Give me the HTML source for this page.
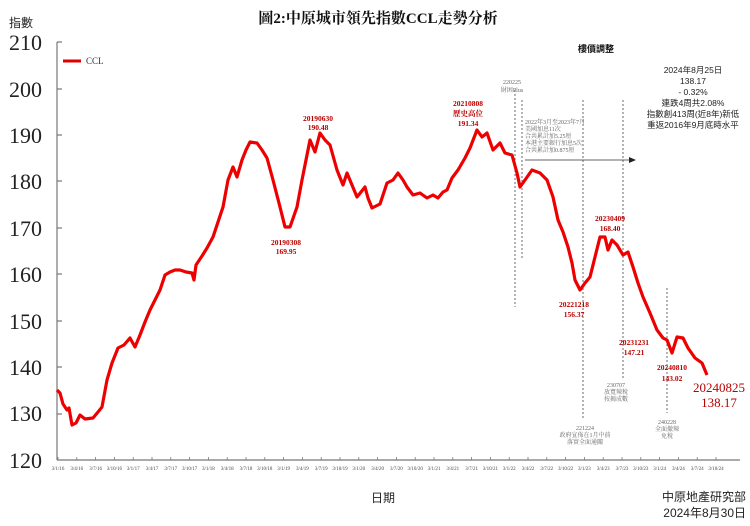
<!DOCTYPE html>
<html><head><meta charset="utf-8"><style>
body{margin:0;background:#fff;}
svg{display:block;font-family:"Liberation Serif","Noto Serif CJK SC",serif;}
</style></head><body>
<svg width="750" height="526" viewBox="0 0 750 526" xmlns="http://www.w3.org/2000/svg">
<rect width="750" height="526" fill="#fff"/>
<text x="378" y="23" font-size="15" font-weight="bold" text-anchor="middle" fill="#111">圖2:中原城市領先指數CCL走勢分析</text>
<text x="9" y="27" font-size="12" font-family="Liberation Sans,Noto Sans CJK TC,sans-serif" fill="#222">指數</text>
<g font-size="22" fill="#222" text-anchor="end">
<text x="42" y="50">210</text><text x="42" y="97">200</text><text x="42" y="143">190</text><text x="42" y="189">180</text><text x="42" y="236">170</text><text x="42" y="282">160</text><text x="42" y="329">150</text><text x="42" y="375">140</text><text x="42" y="421">130</text><text x="42" y="468">120</text>
</g>
<g stroke="#777" stroke-width="1.2">
<line x1="57" y1="42" x2="57" y2="460"/><line x1="57" y1="460" x2="740" y2="460"/>
<line x1="57" y1="42" x2="62" y2="42"/><line x1="57" y1="89" x2="62" y2="89"/><line x1="57" y1="135" x2="62" y2="135"/><line x1="57" y1="181" x2="62" y2="181"/><line x1="57" y1="228" x2="62" y2="228"/><line x1="57" y1="274" x2="62" y2="274"/><line x1="57" y1="321" x2="62" y2="321"/><line x1="57" y1="367" x2="62" y2="367"/><line x1="57" y1="414" x2="62" y2="414"/>
</g>
<line x1="63" y1="61" x2="81" y2="61" stroke="#d00" stroke-width="3"/>
<text x="86" y="64" font-size="9" fill="#333">CCL</text>
<g stroke="#777" stroke-width="0.8">
<line x1="58" y1="457" x2="58" y2="460"/><line x1="76.8" y1="457" x2="76.8" y2="460"/><line x1="95.6" y1="457" x2="95.6" y2="460"/><line x1="114.4" y1="457" x2="114.4" y2="460"/><line x1="133.2" y1="457" x2="133.2" y2="460"/><line x1="152" y1="457" x2="152" y2="460"/><line x1="170.8" y1="457" x2="170.8" y2="460"/><line x1="189.6" y1="457" x2="189.6" y2="460"/><line x1="208.4" y1="457" x2="208.4" y2="460"/><line x1="227.2" y1="457" x2="227.2" y2="460"/><line x1="246" y1="457" x2="246" y2="460"/><line x1="264.8" y1="457" x2="264.8" y2="460"/><line x1="283.6" y1="457" x2="283.6" y2="460"/><line x1="302.4" y1="457" x2="302.4" y2="460"/><line x1="321.2" y1="457" x2="321.2" y2="460"/><line x1="340" y1="457" x2="340" y2="460"/><line x1="358.8" y1="457" x2="358.8" y2="460"/><line x1="377.6" y1="457" x2="377.6" y2="460"/><line x1="396.4" y1="457" x2="396.4" y2="460"/><line x1="415.2" y1="457" x2="415.2" y2="460"/><line x1="434" y1="457" x2="434" y2="460"/><line x1="452.8" y1="457" x2="452.8" y2="460"/><line x1="471.6" y1="457" x2="471.6" y2="460"/><line x1="490.4" y1="457" x2="490.4" y2="460"/><line x1="509.2" y1="457" x2="509.2" y2="460"/><line x1="528" y1="457" x2="528" y2="460"/><line x1="546.8" y1="457" x2="546.8" y2="460"/><line x1="565.6" y1="457" x2="565.6" y2="460"/><line x1="584.4" y1="457" x2="584.4" y2="460"/><line x1="603.2" y1="457" x2="603.2" y2="460"/><line x1="622" y1="457" x2="622" y2="460"/><line x1="640.8" y1="457" x2="640.8" y2="460"/><line x1="659.6" y1="457" x2="659.6" y2="460"/><line x1="678.4" y1="457" x2="678.4" y2="460"/><line x1="697.2" y1="457" x2="697.2" y2="460"/><line x1="716" y1="457" x2="716" y2="460"/>
</g>
<g font-size="5" fill="#444" text-anchor="middle">
<text x="58" y="470">3/1/16</text><text x="76.8" y="470">3/4/16</text><text x="95.6" y="470">3/7/16</text><text x="114.4" y="470">3/10/16</text><text x="133.2" y="470">3/1/17</text><text x="152" y="470">3/4/17</text><text x="170.8" y="470">3/7/17</text><text x="189.6" y="470">3/10/17</text><text x="208.4" y="470">3/1/18</text><text x="227.2" y="470">3/4/18</text><text x="246" y="470">3/7/18</text><text x="264.8" y="470">3/10/18</text><text x="283.6" y="470">3/1/19</text><text x="302.4" y="470">3/4/19</text><text x="321.2" y="470">3/7/19</text><text x="340" y="470">3/10/19</text><text x="358.8" y="470">3/1/20</text><text x="377.6" y="470">3/4/20</text><text x="396.4" y="470">3/7/20</text><text x="415.2" y="470">3/10/20</text><text x="434" y="470">3/1/21</text><text x="452.8" y="470">3/4/21</text><text x="471.6" y="470">3/7/21</text><text x="490.4" y="470">3/10/21</text><text x="509.2" y="470">3/1/22</text><text x="528" y="470">3/4/22</text><text x="546.8" y="470">3/7/22</text><text x="565.6" y="470">3/10/22</text><text x="584.4" y="470">3/1/23</text><text x="603.2" y="470">3/4/23</text><text x="622" y="470">3/7/23</text><text x="640.8" y="470">3/10/23</text><text x="659.6" y="470">3/1/24</text><text x="678.4" y="470">3/4/24</text><text x="697.2" y="470">3/7/24</text><text x="716" y="470">3/10/24</text>
</g>
<g stroke="#444" stroke-width="0.8" stroke-dasharray="2,2" fill="none">
<line x1="515" y1="90" x2="515" y2="307"/><line x1="522" y1="100" x2="522" y2="258"/><line x1="583" y1="100" x2="583" y2="420"/><line x1="623" y1="100" x2="623" y2="380"/><line x1="667" y1="288" x2="667" y2="413"/>
</g>
<line x1="525" y1="160" x2="630" y2="160" stroke="#333" stroke-width="0.8"/>
<polygon points="636,160 629,157 629,163" fill="#222"/>
<polyline fill="none" stroke="#e00" stroke-width="3.2" stroke-linejoin="round" points="57,390 60,393 63,404 67,410 69,408 72,425 76,423 80,415 85,419 93,418 98,412 102,407 107,380 112,363 118,348 124,345 130,338 135,347 140,335 145,322 150,310 155,300 160,290 165,275 170,272 175,270 180,270 186,272 192,273 194,280 196,265 202,256 207,248 213,237 218,222 223,207 228,180 233,167 237,177 242,160 246,150 250,142 257,143 262,150 267,158 273,180 280,207 285,227 290,227 297,207 302,180 306,160 310,140 315,152 320,133 325,140 330,145 337,170 343,185 347,173 352,185 357,197 365,187 368,198 372,208 380,204 387,183 393,180 398,173 403,180 407,187 413,195 420,193 427,198 433,195 438,198 443,192 447,190 452,178 458,170 465,158 470,148 477,130 482,137 487,133 493,150 500,143 505,153 512,155 517,173 520,187 525,180 532,170 540,173 547,180 553,197 558,220 563,232 568,247 572,263 575,280 580,290 585,283 590,277 595,257 600,237 605,237 608,250 612,240 617,245 623,255 628,252 633,267 638,283 643,297 650,313 657,330 663,338 667,340 672,353 677,337 683,338 688,348 695,358 702,363 707,375"/>
<g font-size="7.5" font-weight="bold" fill="#b00" text-anchor="middle">
<text x="318" y="121">20190630</text><text x="318" y="130">190.48</text>
<text x="286" y="245">20190308</text><text x="286" y="254">169.95</text>
<text x="468" y="106">20210808</text><text x="468" y="116">歷史高位</text><text x="468" y="126">191.34</text>
<text x="574" y="307">20221218</text><text x="574" y="317">156.37</text>
<text x="610" y="221">20230409</text><text x="610" y="231">168.40</text>
<text x="634" y="345">20231231</text><text x="634" y="355">147.21</text>
<text x="672" y="370">20240810</text><text x="672" y="381">143.02</text>
</g>
<g font-size="13" fill="#b00" text-anchor="middle"><text x="719" y="392">20240825</text><text x="719" y="407">138.17</text></g>
<g font-size="6" fill="#666" text-anchor="middle">
<text x="512" y="84">220225</text><text x="512" y="92">財困Plus</text>
<text x="616" y="387">230707</text><text x="616" y="394">放寬辣稅</text><text x="616" y="401">按揭成數</text>
<text x="667" y="424">240228</text><text x="667" y="431">全面撤辣</text><text x="667" y="438">免稅</text>
<text x="585" y="430">221224</text><text x="585" y="437">政府宣佈在1月中前</text><text x="585" y="444">落實全面通關</text>
</g>
<g font-size="6" fill="#666">
<text x="525" y="124">2022年3月至2023年7月</text><text x="525" y="131">美國加息11次</text><text x="525" y="138">合共累計加5.25厘</text><text x="525" y="145">本港主要銀行加息5次</text><text x="525" y="152">合共累計加0.875厘</text>
</g>
<text x="596" y="52" font-size="9" font-weight="bold" text-anchor="middle" fill="#111" font-family="Liberation Sans,Noto Sans CJK TC,sans-serif">樓價調整</text>
<g font-size="8.5" text-anchor="middle" fill="#222" font-family="Liberation Sans,Noto Sans CJK TC,sans-serif">
<text x="693" y="73">2024年8月25日</text><text x="693" y="84">138.17</text><text x="693" y="95">- 0.32%</text><text x="693" y="106">連跌4周共2.08%</text><text x="693" y="117">指數創413周(近8年)新低</text><text x="693" y="128">重返2016年9月底時水平</text>
</g>
<text x="383" y="502" font-size="12" text-anchor="middle" fill="#222" font-family="Liberation Sans,Noto Sans CJK TC,sans-serif">日期</text>
<g font-size="12" text-anchor="end" fill="#222" font-family="Liberation Sans,Noto Sans CJK TC,sans-serif"><text x="746" y="501">中原地產研究部</text><text x="746" y="517">2024年8月30日</text></g>
</svg>
</body></html>
